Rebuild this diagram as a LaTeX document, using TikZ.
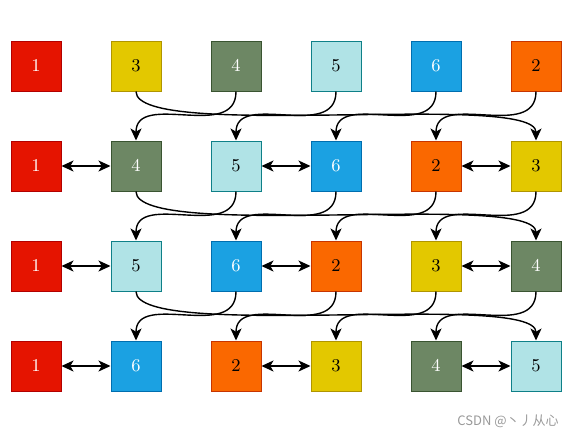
\documentclass[tikz,border=0pt]{standalone}
\usepackage{fontspec}
\newfontfamily\cjk{Noto Sans CJK SC}
\usetikzlibrary{arrows.meta}
\definecolor{cR}{HTML}{E51400}\definecolor{bR}{HTML}{B20000}
\definecolor{cY}{HTML}{E3C800}\definecolor{bY}{HTML}{B09500}
\definecolor{cG}{HTML}{6D8764}\definecolor{bG}{HTML}{3A5431}
\definecolor{cC}{HTML}{B0E3E6}\definecolor{bC}{HTML}{0E8088}
\definecolor{cB}{HTML}{1BA1E2}\definecolor{bB}{HTML}{006EAF}
\definecolor{cO}{HTML}{FA6800}\definecolor{bO}{HTML}{C73500}
\tikzset{
  sq/.style={line width=0.5pt, minimum size=25pt, inner sep=0pt, font=\small},
  v1/.style={sq, fill=cR, draw=bR, text=white},
  v2/.style={sq, fill=cO, draw=bO, text=black},
  v3/.style={sq, fill=cY, draw=bY, text=black},
  v4/.style={sq, fill=cG, draw=bG, text=white},
  v5/.style={sq, fill=cC, draw=bC, text=black},
  v6/.style={sq, fill=cB, draw=bB, text=white},
  mv/.style={line width=0.7pt, -{Stealth[length=6pt,width=5.5pt,inset=1.6pt]}},
  sw/.style={line width=0.7pt, {Stealth[length=6pt,width=5.5pt,inset=1.6pt]}-{Stealth[length=6pt,width=5.5pt,inset=1.6pt]}},
}
\begin{document}
\begin{tikzpicture}[x=0.5pt,y=-0.5pt]
\useasboundingbox (0,0) rectangle (574,436);
\foreach \r/\lst/\y in {1/{1,3,4,5,6,2}/66, 2/{1,4,5,6,2,3}/166, 3/{1,5,6,2,3,4}/266, 4/{1,6,2,3,4,5}/366}{
  \foreach \v [count=\c] in \lst {
    \node[v\v] (n\r\c) at ({36+100*(\c-1)},\y) {$\v$};
  }
}
% swaps
\foreach \r in {2,3,4}{
  \draw[sw] (n\r1) -- (n\r2);
  \draw[sw] (n\r3) -- (n\r4);
  \draw[sw] (n\r5) -- (n\r6);
}
% moves: column 2 goes to column 6, columns 3..6 shift left
\foreach \r [evaluate=\r as \s using int(\r+1)] in {1,2,3}{
  \draw[mv] (n\r2.south) .. controls +(0,50) and +(0,-50) .. (n\s6.north);
  \foreach \c [evaluate=\c as \d using int(\c-1)] in {3,4,5,6}{
    \draw[mv] (n\r\c.south) .. controls +(0,50) and +(0,-50) .. (n\s\d.north);
  }
}
\node[text=black!40, font=\cjk\fontsize{6.5pt}{8pt}\selectfont, anchor=center] (wm) at (508,421) {CSDN @丶丿从心};
\end{tikzpicture}
\end{document}
